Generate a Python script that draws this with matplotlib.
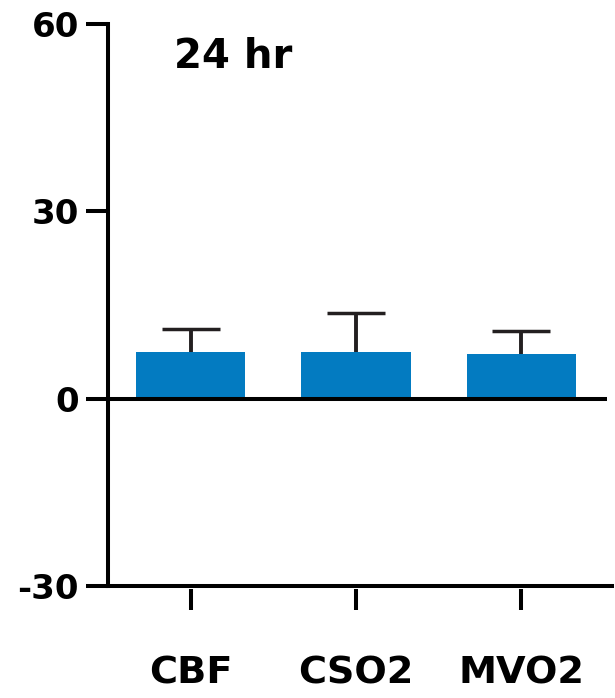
import matplotlib
matplotlib.use("Agg")
import matplotlib.pyplot as plt
import numpy as np

plt.rcParams['font.family'] = ['DejaVu Sans']
plt.rcParams['font.weight'] = 'bold'
plt.rcParams['axes.unicode_minus'] = False

categories = ['CBF', 'CSO2', 'MVO2']
means = [7.5, 7.4, 7.2]
errors = [3.6, 6.4, 3.7]
yticks = [-30, 0, 30, 60]
title = '24 hr'

fig = plt.figure(figsize=(6.15, 6.98), dpi=100)
ax = fig.add_axes([0.1756, 0.161, 0.812, 0.804])

x = np.arange(len(categories))
ax.bar(x, means, width=0.66, color='#037bc1', zorder=2)
eb = ax.errorbar(x, means, yerr=[np.zeros(len(errors)), errors], fmt='none',
                 ecolor='#231f20', elinewidth=2.8, capsize=21, capthick=2.5, zorder=3)
# only the upper cap is shown
for cl in eb[1]:
    if np.allclose(cl.get_ydata(), means):
        cl.set_visible(False)

ax.axhline(0, color='black', lw=2.9, zorder=4)
ax.axhline(-30, xmax=1.01, color='black', lw=2.9, zorder=4, clip_on=False)

ax.set_xlim(-0.5, 2.52)
ax.set_ylim(-30, 60)
ax.set_yticks(yticks)
ax.set_xticks(x)
ax.set_xticklabels(categories)

for s in ['top', 'right']:
    ax.spines[s].set_visible(False)
ax.spines['left'].set_linewidth(2.9)
ax.spines['bottom'].set_position(('outward', 2.2))
ax.spines['bottom'].set_visible(False)

ax.tick_params(axis='y', length=16, width=2.9, labelsize=24.5, pad=5)
ax.tick_params(axis='x', length=15, width=2.9, labelsize=27.5, pad=33)
for lab in ax.get_xticklabels() + ax.get_yticklabels():
    lab.set_fontweight('bold')

ax.text(0.26, 53, title, fontsize=29, fontweight='bold', ha='center', va='baseline')

fig.savefig('out.png', dpi=100)
